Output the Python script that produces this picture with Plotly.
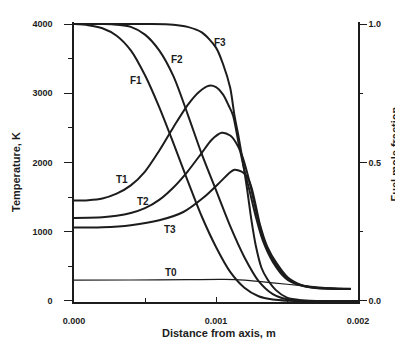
import plotly.graph_objects as go

# distance from axis (mm here, scaled to m below) and fuel mole fraction
f1_x = [0, 0.1, 0.2, 0.3, 0.4, 0.5, 0.6, 0.7, 0.8, 0.9, 1.0, 1.1, 1.2, 1.3, 1.4, 1.5, 1.7, 2.0]
f1_y = [1.0, 0.996, 0.985, 0.958, 0.905, 0.815, 0.7, 0.57, 0.435, 0.305, 0.195, 0.105, 0.048, 0.017, 0.005, 0.001, 0.0, 0.0]

f2_x = [0, 0.2, 0.3, 0.4, 0.5, 0.6, 0.7, 0.8, 0.9, 1.0, 1.1, 1.2, 1.3, 1.4, 1.5, 1.6, 1.8, 2.0]
f2_y = [1.0, 1.0, 0.998, 0.99, 0.962, 0.905, 0.812, 0.675, 0.53, 0.40, 0.27, 0.158, 0.072, 0.025, 0.006, 0.001, 0.0, 0.0]

f3_x = [0, 0.5, 0.7, 0.8, 0.9, 1.0, 1.05, 1.1, 1.13, 1.16, 1.19, 1.22, 1.25, 1.28, 1.32, 1.36, 1.42, 1.5, 1.6, 1.8, 2.0]
f3_y = [1.0, 1.0, 0.998, 0.99, 0.97, 0.915, 0.855, 0.77, 0.67, 0.59, 0.5, 0.4, 0.29, 0.2, 0.12, 0.08, 0.04, 0.012, 0.003, 0.0, 0.0]

# temperature, K
t1_x = [0, 0.1, 0.2, 0.3, 0.4, 0.5, 0.6, 0.7, 0.8, 0.88, 0.95, 1.0, 1.05, 1.09, 1.12, 1.16, 1.2, 1.24, 1.28, 1.33, 1.4, 1.49, 1.58, 1.7, 1.8, 1.95]
t1_y = [1450, 1455, 1480, 1550, 1670, 1870, 2170, 2510, 2830, 3020, 3110, 3090, 2980, 2820, 2680, 2270, 1890, 1560, 1220, 870, 565, 330, 235, 190, 180, 175]

t2_x = [0, 0.2, 0.3, 0.4, 0.5, 0.6, 0.7, 0.8, 0.9, 0.97, 1.04, 1.1, 1.14, 1.18, 1.22, 1.25, 1.29, 1.34, 1.41, 1.5, 1.59, 1.7, 1.8, 1.95]
t2_y = [1200, 1210, 1230, 1270, 1340, 1460, 1640, 1870, 2140, 2330, 2430, 2390, 2290, 2120, 1850, 1600, 1230, 870, 565, 330, 232, 188, 178, 173]

t3_x = [0, 0.2, 0.4, 0.6, 0.77, 0.91, 1.03, 1.1, 1.13, 1.16, 1.19, 1.22, 1.25, 1.28, 1.31, 1.36, 1.43, 1.51, 1.6, 1.7, 1.8, 1.95]
t3_y = [1060, 1065, 1095, 1165, 1285, 1490, 1720, 1860, 1895, 1885, 1855, 1790, 1640, 1380, 1100, 790, 535, 330, 232, 190, 179, 172]

t0_x = [0, 0.4, 0.8, 1.06, 1.2, 1.4, 1.6, 1.8, 1.95]
t0_y = [300, 303, 308, 311, 300, 262, 222, 188, 175]

# curve labels: (text, x in mm, temperature-axis value)
labels = [("F1", 0.438, 3183), ("F2", 0.724, 3485), ("F3", 1.03, 3738),
          ("T1", 0.338, 1756), ("T2", 0.487, 1440), ("T3", 0.678, 1030),
          ("T0", 0.686, 415)]

x_ticks = [0, 0.001, 0.002]
x_ticktext = ["0.000", "0.001", "0.002"]
t_ticks = [0, 1000, 2000, 3000, 4000]
f_ticks = [0, 0.5, 1.0]
f_ticktext = ["0.0", "0.5", "1.0"]

ink = "#1c1c1c"
font = dict(family="Liberation Sans, Arial, sans-serif", color=ink, weight="bold")


def mm(xs):
    return [v * 1e-3 for v in xs]


fig = go.Figure()

for xs, ys in [(f1_x, f1_y), (f2_x, f2_y), (f3_x, f3_y)]:
    fig.add_trace(go.Scatter(x=mm(xs), y=ys, yaxis="y2", mode="lines",
                             line=dict(color=ink, width=2, shape="spline", smoothing=0.8),
                             showlegend=False, hoverinfo="skip"))

for xs, ys in [(t1_x, t1_y), (t2_x, t2_y), (t3_x, t3_y)]:
    fig.add_trace(go.Scatter(x=mm(xs), y=ys, mode="lines",
                             line=dict(color=ink, width=2, shape="spline", smoothing=0.8),
                             showlegend=False, hoverinfo="skip"))

fig.add_trace(go.Scatter(x=mm(t0_x), y=t0_y, mode="lines",
                         line=dict(color=ink, width=1.2, shape="spline", smoothing=0.8),
                         showlegend=False, hoverinfo="skip"))

for txt, lx, ly in labels:
    fig.add_annotation(x=lx * 1e-3, y=ly, text=txt, showarrow=False,
                       font=dict(font, size=10), xanchor="center", yanchor="middle")

# axis titles placed by hand
fig.add_annotation(xref="paper", yref="paper", x=-0.206, y=0.466, text="Temperature, K",
                   textangle=-90, showarrow=False, xanchor="center", yanchor="middle",
                   font=dict(font, size=11))
fig.add_annotation(xref="paper", yref="paper", x=1.13, y=0.53, text="Fuel mole fraction",
                   textangle=-90, showarrow=False, xanchor="center", yanchor="middle",
                   font=dict(font, size=11))
fig.add_annotation(xref="paper", yref="paper", x=0.51, y=-0.11, text="Distance from axis, m",
                   showarrow=False, xanchor="center", yanchor="middle",
                   font=dict(font, size=11))

t_lo, t_hi = -15, 4030

# page body keeps its default 8px margin, so the figure is 8px smaller
fig.update_layout(
    width=395, height=335,
    margin=dict(l=66, r=45, t=11, b=41),
    paper_bgcolor="white", plot_bgcolor="white",
    font=dict(font, size=9),
    xaxis=dict(range=[0, 0.002], tickvals=x_ticks, ticktext=x_ticktext,
               showline=True, linewidth=1.5, linecolor=ink, showgrid=False, zeroline=False,
               ticks="inside", ticklen=5, tickwidth=1.3, tickcolor=ink, ticklabelstandoff=9,
               minor=dict(dtick=0.0005, ticks="inside", ticklen=4, tickcolor=ink, tickwidth=1.2),
               tickfont=dict(font, size=9)),
    yaxis=dict(range=[t_lo, t_hi], tickvals=t_ticks,
               showline=True, linewidth=1.5, linecolor=ink, showgrid=False, zeroline=False,
               ticks="outside", ticklen=8, tickwidth=1.3, tickcolor=ink, ticklabelstandoff=10,
               minor=dict(dtick=500, ticks="outside", ticklen=4, tickcolor=ink, tickwidth=1.2),
               tickfont=dict(font, size=9)),
    yaxis2=dict(range=[t_lo / 4000, t_hi / 4000], tickvals=f_ticks, ticktext=f_ticktext,
                overlaying="y", side="right",
                showline=True, linewidth=1.5, linecolor=ink, showgrid=False, zeroline=False,
                ticks="outside", ticklen=7, tickwidth=1.3, tickcolor=ink,
                minor=dict(dtick=0.25, ticks="outside", ticklen=3, tickcolor=ink, tickwidth=1.2),
                tickfont=dict(font, size=9)),
)

fig.write_html("out.html")
